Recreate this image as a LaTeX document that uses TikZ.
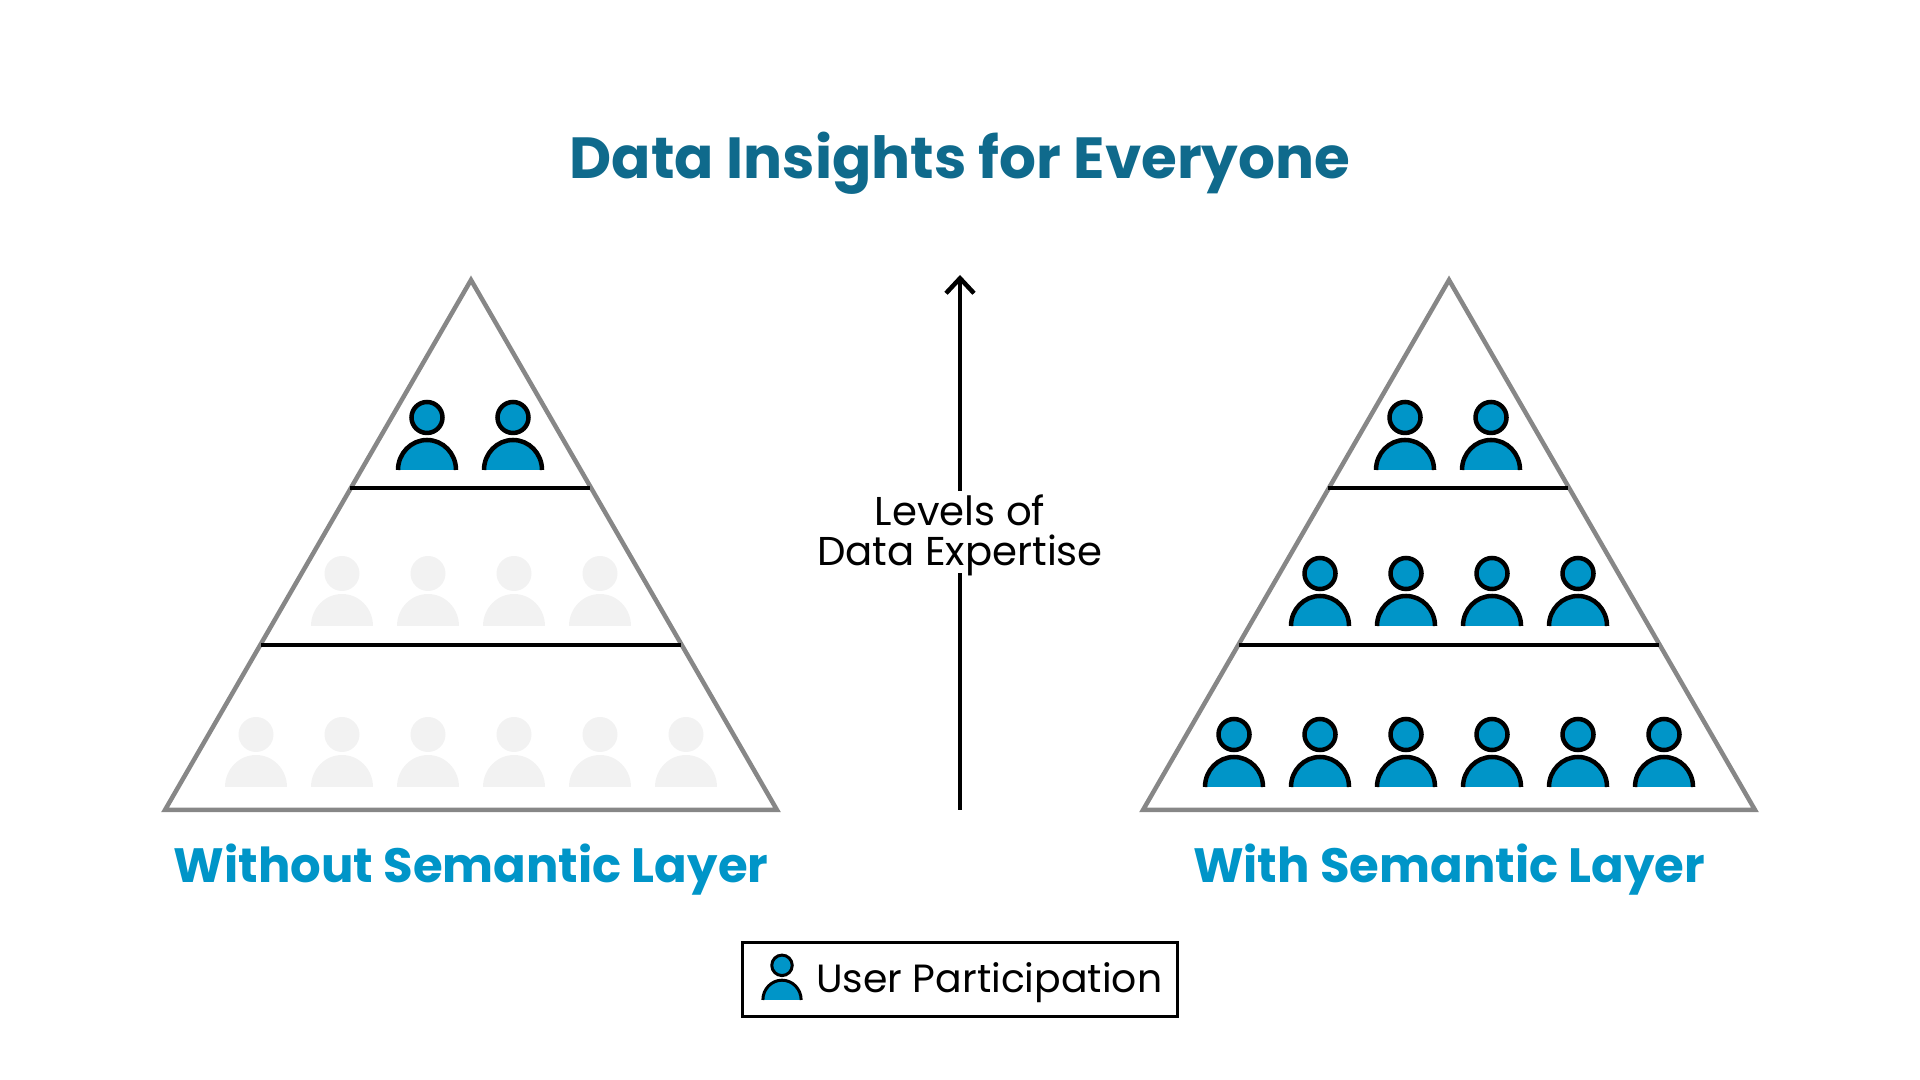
\documentclass[tikz,border=0pt]{standalone}
\usepackage{fontspec}
\setmainfont{Poppins}
\usetikzlibrary{arrows.meta,positioning}
\definecolor{titleblue}{HTML}{0F6A8C}
\definecolor{userblue}{HTML}{0095C8}
\definecolor{ghostgray}{HTML}{F2F2F2}
\definecolor{edgegray}{HTML}{878787}
\tikzset{
heading/.style={font=\bfseries\fontsize{13.7}{17}\selectfont,text=userblue,inner sep=0pt,anchor=base},
plain/.style={font=\fontsize{11.2}{11.4}\selectfont,inner sep=0pt,align=center},
}
\begin{document}
\begin{tikzpicture}[scale=1,line width=.045cm,user/.pic={
\draw[fill=userblue](0,.525)circle(.155);
\draw[fill=userblue](-.29,0)arc[start angle=180,end angle=0,x radius=.29,y radius=.3];
},ghost/.pic={
\fill[ghostgray](0,.525)circle(.175);
\fill[ghostgray](-.31,0)arc[start angle=180,end angle=0,x radius=.31,y radius=.32]--cycle;
}]
\useasboundingbox(0,0)rectangle(19.2,10.8);
\node[heading,text=titleblue,font=\bfseries\fontsize{16.5}{20}\selectfont](title)at(9.6,9.01){Data Insights for Everyone};
% left pyramid
\draw[edgegray](4.71,8)--(1.65,2.7)--(7.77,2.7)--cycle;
\draw(3.5,5.92)--(5.9,5.92)(2.61,4.35)--(6.81,4.35);
\foreach\x in{4.27,5.13}\draw(\x,6.1)pic{user};
\foreach\x in{3.42,4.28,5.14,6}\path(\x,4.54)pic{ghost};
\foreach\x in{2.56,3.42,4.28,5.14,6,6.86}\path(\x,2.93)pic{ghost};
\node[heading](nolayer)at(4.71,1.97){Without Semantic Layer};
% right pyramid
\begin{scope}[xshift=9.78cm]
\draw[edgegray](4.71,8)--(1.65,2.7)--(7.77,2.7)--cycle;
\draw(3.5,5.92)--(5.9,5.92)(2.61,4.35)--(6.81,4.35);
\foreach\x in{4.27,5.13}\draw(\x,6.1)pic{user};
\foreach\x in{3.42,4.28,5.14,6}\draw(\x,4.54)pic{user};
\foreach\x in{2.56,3.42,4.28,5.14,6,6.86}\draw(\x,2.93)pic{user};
\node[heading](withlayer)at(4.71,1.97){With Semantic Layer};
\end{scope}
% expertise axis
\coordinate(axisbot)at(9.6,2.7);
\coordinate(axistop)at(9.6,8.05);
\node[plain,font=\fontsize{11.45}{11.4}\selectfont,minimum height=.83cm](levels)at(9.6,5.45){Levels of\\Data Expertise};
\draw[shorten >=-.06cm](axisbot)--(levels);
\draw[-{Straight Barb[length=.15cm,width=.28cm]}](levels)--(axistop);
% legend
\node[draw,line width=.03cm,minimum width=4.35cm,minimum height=.74cm,inner sep=0pt](legend)at(9.595,1.005){};
\draw[line width=.03cm](7.82,.8)pic[scale=.66]{user};
\node[plain,anchor=base west](usertext)at(8.14,.87){User Participation};
\end{tikzpicture}
\end{document}
